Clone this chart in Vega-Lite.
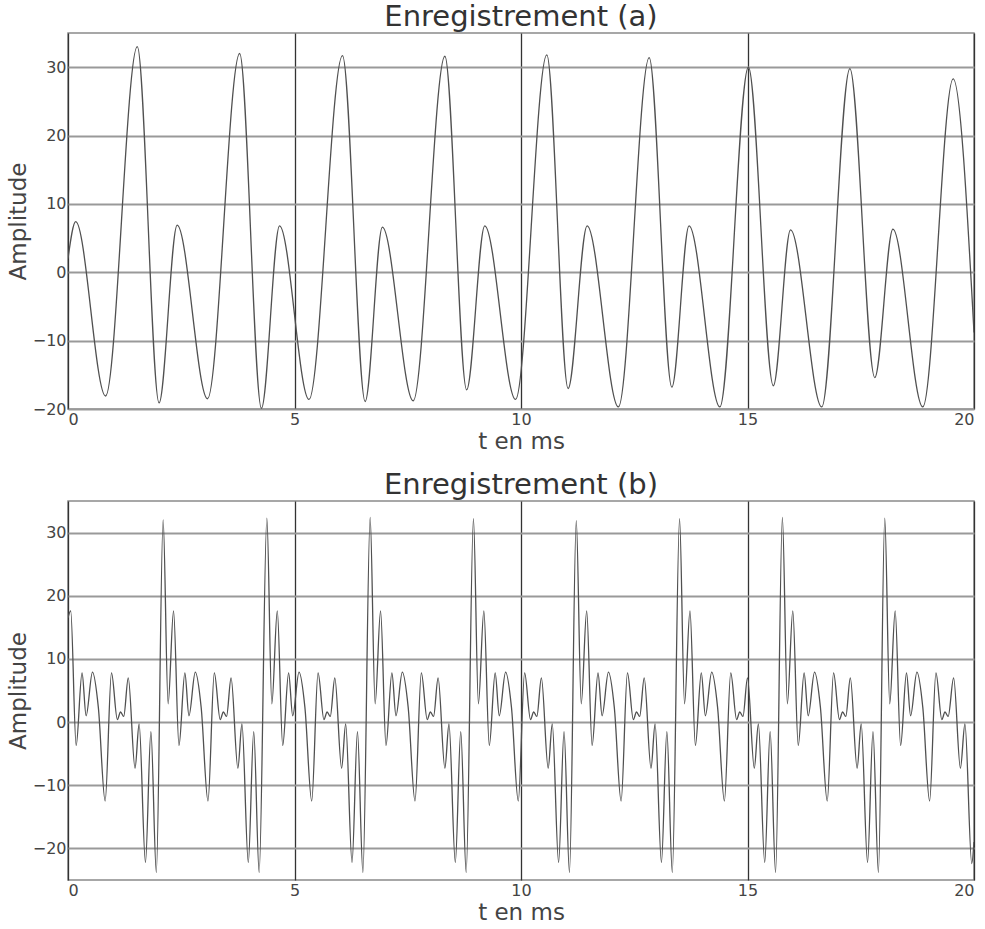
{
  "$schema": "https://vega.github.io/schema/vega-lite/v6.json",
  "padding": {"left": 6, "top": 2, "right": 8, "bottom": 2},
  "spacing": 16,
  "datasets": {
    "a": [
      {"t": 0, "amp": 2.0}, {"t": 0.17, "amp": 7.4}, {"t": 0.83, "amp": -18.1}, {"t": 1.53, "amp": 33.0},
      {"t": 2.01, "amp": -19.1}, {"t": 2.41, "amp": 6.9}, {"t": 3.08, "amp": -18.5}, {"t": 3.79, "amp": 32.0},
      {"t": 4.27, "amp": -19.9}, {"t": 4.67, "amp": 6.8}, {"t": 5.32, "amp": -18.6}, {"t": 6.06, "amp": 31.7},
      {"t": 6.56, "amp": -18.9}, {"t": 6.94, "amp": 6.6}, {"t": 7.62, "amp": -18.8}, {"t": 8.32, "amp": 31.6},
      {"t": 8.80, "amp": -17.2}, {"t": 9.20, "amp": 6.8}, {"t": 9.88, "amp": -18.6}, {"t": 10.57, "amp": 31.8},
      {"t": 11.04, "amp": -17.0}, {"t": 11.46, "amp": 6.8}, {"t": 12.15, "amp": -19.7}, {"t": 12.83, "amp": 31.4},
      {"t": 13.33, "amp": -16.8}, {"t": 13.71, "amp": 6.8}, {"t": 14.39, "amp": -19.7}, {"t": 15.02, "amp": 30.0},
      {"t": 15.57, "amp": -16.6}, {"t": 15.95, "amp": 6.2}, {"t": 16.64, "amp": -19.7}, {"t": 17.26, "amp": 29.8},
      {"t": 17.81, "amp": -15.4}, {"t": 18.21, "amp": 6.3}, {"t": 18.87, "amp": -19.7}, {"t": 19.54, "amp": 28.3},
      {"t": 20.0, "amp": -8.8}
    ],
    "b": [
      {"t": 0, "amp": 16.5}, {"t": 0.06, "amp": 17.6}, {"t": 0.18, "amp": -3.7}, {"t": 0.31, "amp": 7.8}, {"t": 0.40, "amp": 1.0}, {"t": 0.54, "amp": 7.9}, {"t": 0.67, "amp": 2.3}, {"t": 0.82, "amp": -12.5}, {"t": 0.96, "amp": 7.8}, {"t": 1.09, "amp": 0.4}, {"t": 1.16, "amp": 1.6}, {"t": 1.23, "amp": 0.9}, {"t": 1.33, "amp": 7.0}, {"t": 1.48, "amp": -7.3}, {"t": 1.57, "amp": -0.3}, {"t": 1.71, "amp": -22.2}, {"t": 1.83, "amp": -1.5}, {"t": 1.95, "amp": -23.8},
      {"t": 2.10, "amp": 32.0}, {"t": 2.21, "amp": 2.9}, {"t": 2.33, "amp": 17.6}, {"t": 2.45, "amp": -3.7}, {"t": 2.58, "amp": 7.8}, {"t": 2.67, "amp": 1.0}, {"t": 2.81, "amp": 7.9}, {"t": 2.94, "amp": 2.3}, {"t": 3.09, "amp": -12.5}, {"t": 3.23, "amp": 7.8}, {"t": 3.36, "amp": 0.4}, {"t": 3.43, "amp": 1.6}, {"t": 3.50, "amp": 0.9}, {"t": 3.60, "amp": 7.0}, {"t": 3.75, "amp": -7.3}, {"t": 3.84, "amp": -0.3}, {"t": 3.98, "amp": -22.2}, {"t": 4.10, "amp": -1.5}, {"t": 4.22, "amp": -23.8},
      {"t": 4.39, "amp": 32.3}, {"t": 4.50, "amp": 2.9}, {"t": 4.62, "amp": 17.6}, {"t": 4.74, "amp": -3.7}, {"t": 4.87, "amp": 7.8}, {"t": 4.96, "amp": 1.0}, {"t": 5.10, "amp": 7.9}, {"t": 5.23, "amp": 2.3}, {"t": 5.38, "amp": -12.5}, {"t": 5.52, "amp": 7.8}, {"t": 5.65, "amp": 0.4}, {"t": 5.72, "amp": 1.6}, {"t": 5.79, "amp": 0.9}, {"t": 5.89, "amp": 7.0}, {"t": 6.04, "amp": -7.3}, {"t": 6.13, "amp": -0.3}, {"t": 6.27, "amp": -22.2}, {"t": 6.39, "amp": -1.5}, {"t": 6.51, "amp": -23.8},
      {"t": 6.67, "amp": 32.4}, {"t": 6.78, "amp": 2.9}, {"t": 6.90, "amp": 17.6}, {"t": 7.02, "amp": -3.7}, {"t": 7.15, "amp": 7.8}, {"t": 7.24, "amp": 1.0}, {"t": 7.38, "amp": 7.9}, {"t": 7.51, "amp": 2.3}, {"t": 7.66, "amp": -12.5}, {"t": 7.80, "amp": 7.8}, {"t": 7.93, "amp": 0.4}, {"t": 8.00, "amp": 1.6}, {"t": 8.07, "amp": 0.9}, {"t": 8.17, "amp": 7.0}, {"t": 8.32, "amp": -7.3}, {"t": 8.41, "amp": -0.3}, {"t": 8.55, "amp": -22.2}, {"t": 8.67, "amp": -1.5}, {"t": 8.79, "amp": -23.8},
      {"t": 8.95, "amp": 32.2}, {"t": 9.06, "amp": 2.9}, {"t": 9.18, "amp": 17.6}, {"t": 9.30, "amp": -3.7}, {"t": 9.43, "amp": 7.8}, {"t": 9.52, "amp": 1.0}, {"t": 9.66, "amp": 7.9}, {"t": 9.79, "amp": 2.3}, {"t": 9.94, "amp": -12.5}, {"t": 10.08, "amp": 7.8}, {"t": 10.21, "amp": 0.4}, {"t": 10.28, "amp": 1.6}, {"t": 10.35, "amp": 0.9}, {"t": 10.45, "amp": 7.0}, {"t": 10.60, "amp": -7.3}, {"t": 10.69, "amp": -0.3}, {"t": 10.83, "amp": -22.2}, {"t": 10.95, "amp": -1.5}, {"t": 11.07, "amp": -23.8},
      {"t": 11.22, "amp": 31.9}, {"t": 11.33, "amp": 2.9}, {"t": 11.45, "amp": 17.6}, {"t": 11.57, "amp": -3.7}, {"t": 11.70, "amp": 7.8}, {"t": 11.79, "amp": 1.0}, {"t": 11.93, "amp": 7.9}, {"t": 12.06, "amp": 2.3}, {"t": 12.21, "amp": -12.5}, {"t": 12.35, "amp": 7.8}, {"t": 12.48, "amp": 0.4}, {"t": 12.55, "amp": 1.6}, {"t": 12.62, "amp": 0.9}, {"t": 12.72, "amp": 7.0}, {"t": 12.87, "amp": -7.3}, {"t": 12.96, "amp": -0.3}, {"t": 13.10, "amp": -22.2}, {"t": 13.22, "amp": -1.5}, {"t": 13.34, "amp": -23.8},
      {"t": 13.50, "amp": 32.2}, {"t": 13.61, "amp": 2.9}, {"t": 13.73, "amp": 17.6}, {"t": 13.85, "amp": -3.7}, {"t": 13.98, "amp": 7.8}, {"t": 14.07, "amp": 1.0}, {"t": 14.21, "amp": 7.9}, {"t": 14.34, "amp": 2.3}, {"t": 14.49, "amp": -12.5}, {"t": 14.63, "amp": 7.8}, {"t": 14.76, "amp": 0.4}, {"t": 14.83, "amp": 1.6}, {"t": 14.90, "amp": 0.9}, {"t": 15.00, "amp": 7.0}, {"t": 15.15, "amp": -7.3}, {"t": 15.24, "amp": -0.3}, {"t": 15.38, "amp": -22.2}, {"t": 15.50, "amp": -1.5}, {"t": 15.62, "amp": -23.8},
      {"t": 15.77, "amp": 32.4}, {"t": 15.88, "amp": 2.9}, {"t": 16.00, "amp": 17.6}, {"t": 16.12, "amp": -3.7}, {"t": 16.25, "amp": 7.8}, {"t": 16.34, "amp": 1.0}, {"t": 16.48, "amp": 7.9}, {"t": 16.61, "amp": 2.3}, {"t": 16.76, "amp": -12.5}, {"t": 16.90, "amp": 7.8}, {"t": 17.03, "amp": 0.4}, {"t": 17.10, "amp": 1.6}, {"t": 17.17, "amp": 0.9}, {"t": 17.27, "amp": 7.0}, {"t": 17.42, "amp": -7.3}, {"t": 17.51, "amp": -0.3}, {"t": 17.65, "amp": -22.2}, {"t": 17.77, "amp": -1.5}, {"t": 17.89, "amp": -23.8},
      {"t": 18.03, "amp": 32.3}, {"t": 18.14, "amp": 2.9}, {"t": 18.26, "amp": 17.6}, {"t": 18.38, "amp": -3.7}, {"t": 18.51, "amp": 7.8}, {"t": 18.60, "amp": 1.0}, {"t": 18.74, "amp": 7.9}, {"t": 18.87, "amp": 2.3}, {"t": 19.02, "amp": -12.5}, {"t": 19.16, "amp": 7.8}, {"t": 19.29, "amp": 0.4}, {"t": 19.36, "amp": 1.6}, {"t": 19.43, "amp": 0.9}, {"t": 19.55, "amp": 7.0}, {"t": 19.70, "amp": -7.3}, {"t": 19.80, "amp": -0.3}, {"t": 19.95, "amp": -22.4}, {"t": 20.0, "amp": -19.0}
    ]
  },
  "vconcat": [
    {
      "title": "Enregistrement (a)",
      "width": 906,
      "height": 376,
      "data": {"name": "a"},
      "mark": {"type": "line", "interpolate": "monotone", "color": "#505050", "strokeWidth": 1.3, "clip": true},
      "encoding": {
        "x": {"field": "t", "type": "quantitative", "title": "t en ms", "scale": {"domain": [0, 20], "nice": false}, "axis": {"values": [0, 5, 10, 15, 20]}},
        "y": {"field": "amp", "type": "quantitative", "title": "Amplitude", "scale": {"domain": [-20, 35], "nice": false}, "axis": {"values": [-20, -10, 0, 10, 20, 30]}}
      }
    },
    {
      "title": "Enregistrement (b)",
      "width": 906,
      "height": 379,
      "data": {"name": "b"},
      "mark": {"type": "line", "interpolate": "monotone", "color": "#505050", "strokeWidth": 1.3, "clip": true},
      "encoding": {
        "x": {"field": "t", "type": "quantitative", "title": "t en ms", "scale": {"domain": [0, 20], "nice": false}, "axis": {"values": [0, 5, 10, 15, 20]}},
        "y": {"field": "amp", "type": "quantitative", "title": "Amplitude", "scale": {"domain": [-25, 35], "nice": false}, "axis": {"values": [-20, -10, 0, 10, 20, 30]}}
      }
    }
  ],
  "config": {
    "font": "DejaVu Sans",
    "view": {"stroke": "#8a8a8a", "strokeWidth": 1.5},
    "title": {"fontSize": 29, "fontWeight": "normal", "color": "#333333", "offset": 1, "anchor": "middle"},
    "axis": {"domain": false, "ticks": false, "labelFontSize": 16, "labelColor": "#444444", "titleFontSize": 23, "titleFontWeight": "normal", "titleColor": "#444444"},
    "axisX": {"gridColor": "#333333", "gridWidth": 1.3, "gridOpacity": 1, "titlePadding": 3, "labelPadding": 2},
    "axisY": {"gridColor": "#999999", "gridWidth": 2, "gridOpacity": 1, "titlePadding": 2, "labelPadding": 2}
  }
}
